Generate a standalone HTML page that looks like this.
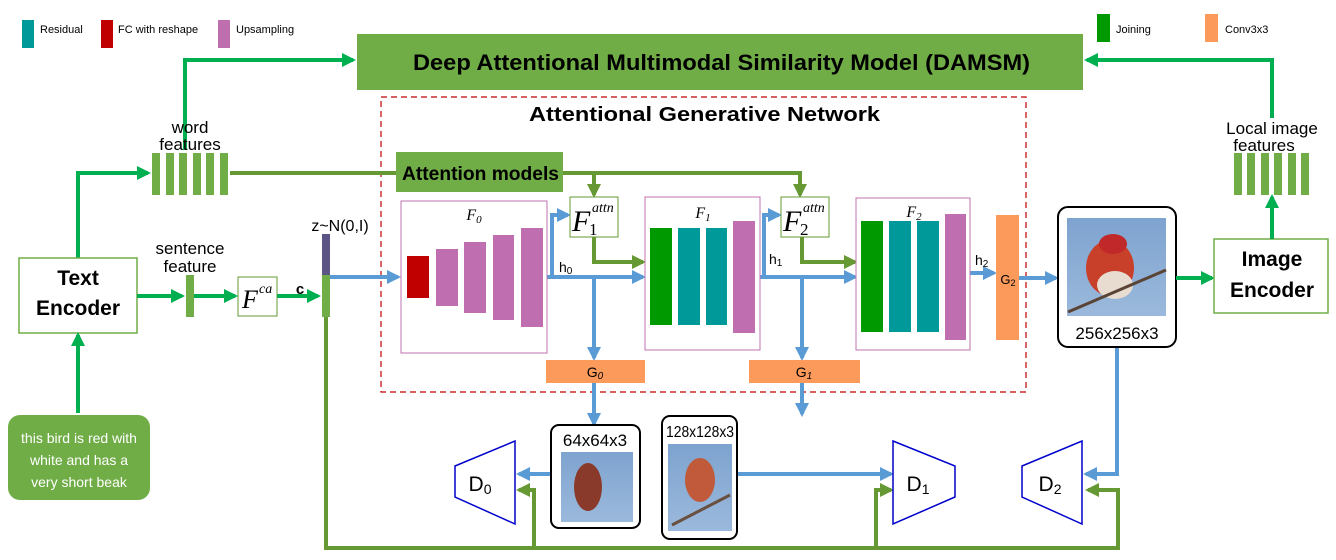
<!DOCTYPE html>
<html><head><meta charset="utf-8"><style>
body{margin:0;background:#fff}
svg{display:block;font-family:"Liberation Sans",sans-serif}
</style></head><body>
<svg width="1336" height="560" viewBox="0 0 1336 560" xmlns="http://www.w3.org/2000/svg">
<defs>
<marker id="ag" markerWidth="14" markerHeight="14" refX="11" refY="7" orient="auto" markerUnits="userSpaceOnUse" viewBox="0 0 14 14"><path d="M0,0 L14,7 L0,14z" fill="#00b050"/></marker>
<marker id="ad" markerWidth="14" markerHeight="14" refX="11" refY="7" orient="auto" markerUnits="userSpaceOnUse" viewBox="0 0 14 14"><path d="M0,0 L14,7 L0,14z" fill="#669933"/></marker>
<marker id="ab" markerWidth="14" markerHeight="14" refX="11" refY="7" orient="auto" markerUnits="userSpaceOnUse" viewBox="0 0 14 14"><path d="M0,0 L14,7 L0,14z" fill="#5b9bd5"/></marker>
<linearGradient id="sky" x1="0" y1="0" x2="0" y2="1"><stop offset="0" stop-color="#7ea3cf"/><stop offset="1" stop-color="#9bb9dc"/></linearGradient>
</defs>
<!-- legend -->
<g font-size="11">
<rect x="22" y="20" width="12" height="28" fill="#009999"/><text x="40" y="33">Residual</text>
<rect x="101" y="20" width="12" height="28" fill="#c00000"/><text x="118" y="33">FC with reshape</text>
<rect x="218" y="20" width="12" height="28" fill="#bf6faf"/><text x="236" y="33">Upsampling</text>
<rect x="1097" y="14" width="13" height="28" fill="#009900"/><text x="1116" y="33">Joining</text>
<rect x="1205" y="14" width="13" height="28" fill="#fb9a5a"/><text x="1225" y="33">Conv3x3</text>
</g>
<!-- DAMSM -->
<rect x="357" y="34" width="726" height="56" fill="#70ad47"/>
<text x="413" y="70" font-size="22" font-weight="bold" textLength="617" lengthAdjust="spacingAndGlyphs">Deep Attentional Multimodal Similarity Model (DAMSM)</text>
<path d="M185,150 V60 H353" fill="none" stroke="#00b050" stroke-width="4" marker-end="url(#ag)"/>
<path d="M1272,118 V60 H1087" fill="none" stroke="#00b050" stroke-width="4" marker-end="url(#ag)"/>
<!-- dashed -->
<rect x="381" y="97" width="645" height="295" fill="none" stroke="#c00000" stroke-width="1.2" stroke-dasharray="6,4"/>
<text x="529" y="121" font-size="20" font-weight="bold" textLength="351" lengthAdjust="spacingAndGlyphs">Attentional Generative Network</text>
<!-- word features -->
<text x="190" y="133" font-size="17" text-anchor="middle">word</text>
<text x="190" y="150" font-size="17" text-anchor="middle">features</text>
<g fill="#70ad47"><rect x="152" y="153" width="8" height="42"/><rect x="166" y="153" width="8" height="42"/><rect x="179" y="153" width="8" height="42"/><rect x="193" y="153" width="8" height="42"/><rect x="206" y="153" width="8" height="42"/><rect x="220" y="153" width="8" height="42"/></g>
<path d="M78,258 V173 H148" fill="none" stroke="#00b050" stroke-width="4" marker-end="url(#ag)"/>
<path d="M230,173 H800 V195" fill="none" stroke="#669933" stroke-width="4" marker-end="url(#ad)"/>
<path d="M594,173 V195" fill="none" stroke="#669933" stroke-width="4" marker-end="url(#ad)"/>
<rect x="396" y="152" width="167" height="40" fill="#70ad47"/>
<text x="402" y="180" font-size="19" font-weight="bold" textLength="157" lengthAdjust="spacingAndGlyphs">Attention models</text>
<!-- text encoder -->
<rect x="19" y="258" width="118" height="75" fill="#fff" stroke="#70ad47" stroke-width="1.5"/>
<text x="78" y="285" font-size="21" font-weight="bold" text-anchor="middle">Text</text>
<text x="78" y="315" font-size="21" font-weight="bold" text-anchor="middle">Encoder</text>
<text x="190" y="254" font-size="17" text-anchor="middle">sentence</text>
<text x="190" y="272" font-size="17" text-anchor="middle">feature</text>
<path d="M137,296 H182" stroke="#00b050" stroke-width="4" marker-end="url(#ag)"/>
<rect x="186" y="275" width="8" height="42" fill="#70ad47"/>
<path d="M194,296 H235" stroke="#00b050" stroke-width="4" marker-end="url(#ag)"/>
<rect x="238" y="277" width="39" height="39" fill="#fff" stroke="#669933"/>
<text x="242" y="308" font-size="26" font-style="italic" font-family="Liberation Serif,serif">F</text>
<text x="259" y="293" font-size="14" font-style="italic" font-family="Liberation Serif,serif">ca</text>
<text x="300" y="294" font-size="15" font-weight="bold" text-anchor="middle">c</text>
<path d="M277,296 H318" stroke="#00b050" stroke-width="4" marker-end="url(#ag)"/>
<text x="340" y="231" font-size="16" text-anchor="middle">z~N(0,I)</text>
<!-- bottom green loop -->
<path d="M326,317 V548 H1118 V490 H1088" fill="none" stroke="#669933" stroke-width="4" marker-end="url(#ad)"/>
<path d="M534,548 V490 H519" fill="none" stroke="#669933" stroke-width="4" marker-end="url(#ad)"/>
<path d="M876,548 V490 H891" fill="none" stroke="#669933" stroke-width="4" marker-end="url(#ad)"/>
<rect x="322" y="234" width="8" height="41" fill="#5b5586"/>
<rect x="322" y="275" width="8" height="42" fill="#70ad47"/>
<!-- blue flow -->
<g fill="none" stroke="#5b9bd5" stroke-width="4">
<path d="M330,277 H398" marker-end="url(#ab)"/>
<path d="M547,277 H643" marker-end="url(#ab)"/>
<path d="M552,277 V215 H568" marker-end="url(#ab)"/>
<path d="M594,277 V358" marker-end="url(#ab)"/>
<path d="M594,383 V424" marker-end="url(#ab)"/>
<path d="M760,277 H855" marker-end="url(#ab)"/>
<path d="M764,277 V215 H779" marker-end="url(#ab)"/>
<path d="M802,277 V358" marker-end="url(#ab)"/>
<path d="M802,383 V414" marker-end="url(#ab)"/>
<path d="M970,273 H994" marker-end="url(#ab)"/>
<path d="M1019,278 H1056" marker-end="url(#ab)"/>
<path d="M1117,347 V474 H1086" marker-end="url(#ab)"/>
<path d="M551,474 H519" marker-end="url(#ab)"/>
<path d="M737,474 H891" marker-end="url(#ab)"/>
</g>
<g fill="none" stroke="#669933" stroke-width="4">
<path d="M594,237 V262 H643" marker-end="url(#ad)"/>
<path d="M802,237 V262 H855" marker-end="url(#ad)"/>
</g>
<text x="559" y="272" font-size="14">h<tspan font-size="10" dy="2">0</tspan></text>
<text x="769" y="264" font-size="14">h<tspan font-size="10" dy="2">1</tspan></text>
<text x="975" y="265" font-size="14">h<tspan font-size="10" dy="2">2</tspan></text>
<!-- F0 -->
<rect x="401" y="201" width="146" height="152" fill="#fff" stroke="#c070b0"/>
<text x="474" y="220" font-size="16" font-style="italic" font-family="Liberation Serif,serif" text-anchor="middle">F<tspan font-size="11" dy="3">0</tspan></text>
<rect x="407" y="256" width="22" height="42" fill="#c00000"/>
<g fill="#bf6faf"><rect x="436" y="249" width="22" height="57"/><rect x="464" y="242" width="22" height="71"/><rect x="493" y="235" width="21" height="85"/><rect x="521" y="228" width="22" height="99"/></g>
<!-- F1attn -->
<rect x="570" y="197" width="48" height="40" fill="#fff" stroke="#669933"/>
<text x="572" y="231" font-size="30" font-style="italic" font-family="Liberation Serif,serif">F</text>
<text x="592" y="212" font-size="14" font-style="italic" font-family="Liberation Serif,serif">attn</text>
<text x="589" y="235" font-size="17" font-family="Liberation Serif,serif">1</text>
<rect x="781" y="197" width="48" height="40" fill="#fff" stroke="#669933"/>
<text x="783" y="231" font-size="30" font-style="italic" font-family="Liberation Serif,serif">F</text>
<text x="803" y="212" font-size="14" font-style="italic" font-family="Liberation Serif,serif">attn</text>
<text x="800" y="235" font-size="17" font-family="Liberation Serif,serif">2</text>
<!-- F1 -->
<rect x="645" y="197" width="115" height="153" fill="#fff" stroke="#c070b0"/>
<text x="703" y="218" font-size="16" font-style="italic" font-family="Liberation Serif,serif" text-anchor="middle">F<tspan font-size="11" dy="3">1</tspan></text>
<rect x="650" y="228" width="22" height="97" fill="#009900"/>
<rect x="678" y="228" width="22" height="97" fill="#009999"/><rect x="706" y="228" width="21" height="97" fill="#009999"/>
<rect x="733" y="221" width="22" height="112" fill="#bf6faf"/>
<!-- F2 -->
<rect x="856" y="198" width="114" height="152" fill="#fff" stroke="#c070b0"/>
<text x="914" y="217" font-size="16" font-style="italic" font-family="Liberation Serif,serif" text-anchor="middle">F<tspan font-size="11" dy="3">2</tspan></text>
<rect x="861" y="221" width="22" height="111" fill="#009900"/>
<rect x="889" y="221" width="22" height="111" fill="#009999"/><rect x="917" y="221" width="22" height="111" fill="#009999"/>
<rect x="945" y="214" width="21" height="126" fill="#bf6faf"/>
<!-- G -->
<rect x="546" y="360" width="99" height="23" fill="#fb9a5a"/>
<text x="595" y="377" font-size="14" text-anchor="middle">G<tspan font-size="10" font-style="italic" dy="2">0</tspan></text>
<rect x="749" y="360" width="111" height="23" fill="#fb9a5a"/>
<text x="804" y="377" font-size="14" text-anchor="middle">G<tspan font-size="10" font-style="italic" dy="2">1</tspan></text>
<rect x="996" y="215" width="23" height="125" fill="#fb9a5a"/>
<text x="1008" y="284" font-size="13" text-anchor="middle">G<tspan font-size="9" dy="2">2</tspan></text>
<!-- 256 box -->
<rect x="1058" y="207" width="118" height="140" rx="10" fill="#fff" stroke="#000" stroke-width="2"/>
<rect x="1067" y="218" width="99" height="98" fill="url(#sky)"/>
<ellipse cx="1110" cy="268" rx="24" ry="28" fill="#c8402a"/><ellipse cx="1115" cy="285" rx="18" ry="14" fill="#e8dcd0"/><ellipse cx="1113" cy="244" rx="14" ry="10" fill="#c0282a"/>
<path d="M1068,312 L1166,270" stroke="#5a4436" stroke-width="3"/>
<text x="1117" y="339" font-size="17" text-anchor="middle">256x256x3</text>
<path d="M1176,278 H1212" stroke="#00b050" stroke-width="4" marker-end="url(#ag)"/>
<rect x="1214" y="239" width="114" height="74" fill="#fff" stroke="#70ad47" stroke-width="1.5"/>
<text x="1272" y="266" font-size="21" font-weight="bold" text-anchor="middle">Image</text>
<text x="1272" y="297" font-size="21" font-weight="bold" text-anchor="middle">Encoder</text>
<path d="M1272,239 V197" stroke="#00b050" stroke-width="4" marker-end="url(#ag)"/>
<text x="1272" y="134" font-size="17" text-anchor="middle">Local image</text>
<text x="1264" y="151" font-size="17" text-anchor="middle">features</text>
<g fill="#70ad47"><rect x="1234" y="153" width="8" height="42"/><rect x="1247" y="153" width="8" height="42"/><rect x="1261" y="153" width="8" height="42"/><rect x="1274" y="153" width="8" height="42"/><rect x="1288" y="153" width="8" height="42"/><rect x="1301" y="153" width="8" height="42"/></g>
<!-- bubble -->
<path d="M78,413 V335" stroke="#00b050" stroke-width="4" marker-end="url(#ag)"/>
<rect x="8" y="415" width="142" height="85" rx="12" fill="#70ad47"/>
<g fill="#fff" font-size="14" text-anchor="middle"><text x="79" y="443">this bird is red with</text><text x="79" y="465">white and has a</text><text x="79" y="487">very short beak</text></g>
<!-- 64 box -->
<rect x="551" y="425" width="89" height="103" rx="8" fill="#fff" stroke="#000" stroke-width="2"/>
<text x="595" y="446" font-size="17" text-anchor="middle">64x64x3</text>
<rect x="561" y="452" width="72" height="70" fill="url(#sky)"/>
<ellipse cx="588" cy="487" rx="14" ry="24" fill="#8a3a2a"/>
<!-- 128 box -->
<rect x="662" y="416" width="75" height="123" rx="8" fill="#fff" stroke="#000" stroke-width="2"/>
<text x="700" y="437" font-size="16" text-anchor="middle" textLength="68" lengthAdjust="spacingAndGlyphs">128x128x3</text>
<rect x="668" y="444" width="64" height="87" fill="url(#sky)"/>
<ellipse cx="700" cy="480" rx="15" ry="22" fill="#c05a3a"/><path d="M672,525 L730,495" stroke="#6a5040" stroke-width="3"/>
<!-- D -->
<g fill="#fff" stroke="#0000cc" stroke-width="1.5">
<polygon points="455,466 515,441 515,524 455,497"/>
<polygon points="893,441 955,466 955,497 893,524"/>
<polygon points="1022,466 1082,441 1082,524 1022,497"/>
</g>
<g font-size="21" text-anchor="middle">
<text x="480" y="491">D<tspan font-size="14" dy="3">0</tspan></text>
<text x="918" y="491">D<tspan font-size="14" dy="3">1</tspan></text>
<text x="1050" y="491">D<tspan font-size="14" dy="3">2</tspan></text>
</g>
</svg>
</body></html>
